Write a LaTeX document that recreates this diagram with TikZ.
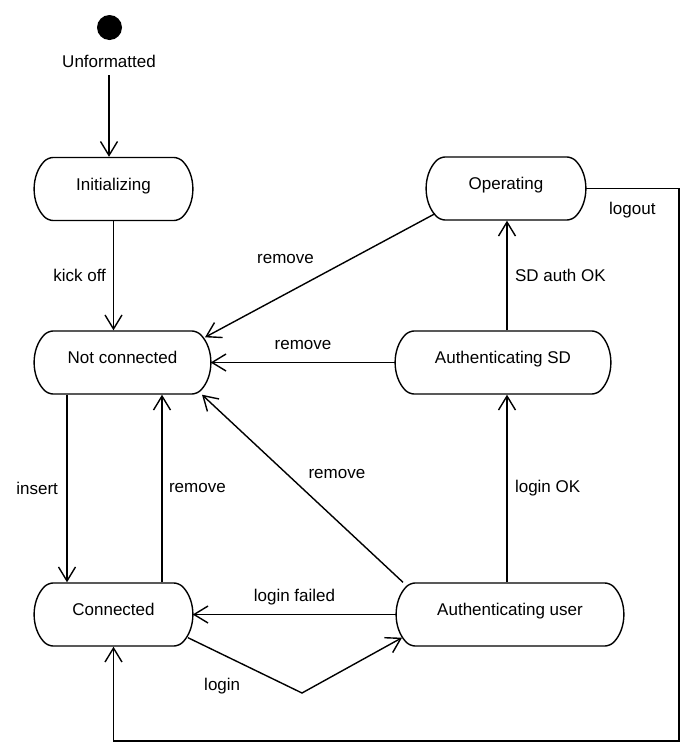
\documentclass[tikz,border=0pt]{standalone}
\usepackage{fontspec}
\setmainfont{Liberation Sans}
\usetikzlibrary{arrows.meta,shapes.misc}

\tikzset{
    statebox/.style={draw, rounded rectangle, rounded rectangle arc length=90, rounded corners=5pt,
        minimum height=63pt, inner sep=0pt, text height=12.5pt, text depth=10pt},
    trans/.style={-{Straight Barb[length=14pt,width=17pt]}},
    startdot/.style={circle, fill, minimum size=25pt, inner sep=0pt},
}

\begin{document}
\begin{tikzpicture}[x=1pt, y=-1pt, line width=1.4pt, font=\fontsize{17}{20}\selectfont]
    \useasboundingbox (0,0) rectangle (695,756);

    \node[startdot] (start) at (109.5,27.5) {};
    \node (unf) at (109,61) {Unformatted};
    \node[statebox, minimum width=157pt] (init) at (113.5,189) {Initializing};
    \node[statebox, minimum width=158pt] (oper) at (506,188.5) {Operating};
    \node[statebox, minimum width=175pt] (nc) at (122.5,362.5) {Not connected};
    \node[statebox, minimum width=214pt] (asd) at (503,362.5) {Authenticating SD};
    \node[statebox, minimum width=157pt] (conn) at (113.5,614.5) {Connected};
    \node[statebox, minimum width=226pt] (au) at (510,614.5) {Authenticating user};

    \coordinate (lgne) at (679,188.5);
    \coordinate (lgse) at (679,741);
    \coordinate (loginbend) at (302,693);

    \draw[trans, shorten <=4pt] (unf.south) -- (unf.south |- init.north);
    \draw[trans] (init.south) -- node[left=3.5pt]{kick off} (init.south |- nc.north);
    \draw[trans] ([xshift=-71pt,yshift=7pt]oper.south) -- node[pos=.65, above=26pt]{remove}
        ([xshift=82.5pt,yshift=-7pt]nc.north);
    \draw[trans] (asd.west) -- node[above=9pt]{remove} (nc.east);
    \draw[trans] ([xshift=4pt]asd.north) -- node[right=4pt]{SD auth OK} ([xshift=4pt]asd.north |- oper.south);
    \draw[trans] ([xshift=-55.5pt]nc.south) -- node[left=5pt]{insert} ([xshift=-55.5pt]nc.south |- conn.north);
    \draw[trans] ([xshift=48.5pt]conn.north) -- node[right=3pt]{remove} ([xshift=48.5pt]conn.north |- nc.south);
    \draw[trans] ([xshift=-107pt]au.north) -- node[pos=.5, anchor=south west, xshift=2pt, yshift=6pt]{remove}
        ([xshift=79.5pt]nc.south);
    \draw[trans] ([xshift=-3pt]au.north) -- node[right=4pt]{login OK} ([xshift=-3pt]au.north |- asd.south);
    \draw[trans] (au.west) -- node[above=5pt]{login failed} (conn.east);
    \draw[trans] ([xshift=74.5pt,yshift=9pt]conn.south) -- node[pos=.3, below=20pt]{login} (loginbend)
        -- ([xshift=-108pt,yshift=9pt]au.south);
    \draw[trans] (oper.east) -- node[below=10pt]{logout} (lgne) -- (lgse) -- (conn.south |- lgse) -- (conn.south);

\end{tikzpicture}
\end{document}
